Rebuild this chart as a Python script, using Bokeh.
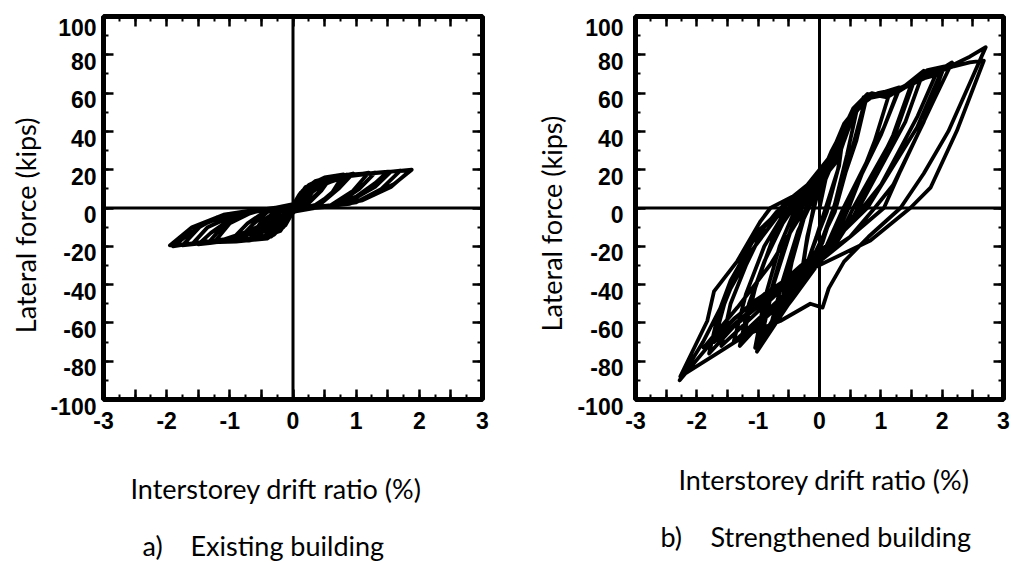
import math
from bokeh.plotting import figure
from bokeh.models import FixedTicker, Span, LinearAxis, Range1d
from bokeh.core.properties import value
from bokeh.layouts import row, column
from bokeh.embed import file_html
from bokeh.resources import INLINE

# ---------------- data: a) existing building ----------------
drift_a = [
    0.00,
    0.10, 0.25, 0.20, 0.05, -0.05, -0.20, -0.25, -0.15, -0.03,
    0.10, 0.30, 0.22, 0.08, -0.05, -0.20, -0.30, -0.20, -0.05,
    0.05, 0.15, 0.35, 0.30, 0.15, 0.00, -0.10, -0.30, -0.25, -0.10, 0.00,
    0.15, 0.35, 0.55, 0.40, 0.20, 0.00, -0.20, -0.40, -0.55, -0.40, -0.20, 0.00,
    0.20, 0.40, 0.60, 0.45, 0.25, 0.00, -0.25, -0.45, -0.65, -0.45, -0.25, 0.00,
    0.10, 0.25, 0.50, 0.80, 0.60, 0.30, 0.00, -0.12, -0.35, -0.70, -0.50, -0.20, 0.00,
    0.25, 0.50, 0.85, 0.65, 0.40, 0.05, -0.30, -0.60, -0.90, -0.65, -0.40, 0.00,
    0.30, 0.60, 0.95, 0.72, 0.45, 0.05, -0.35, -0.70, -1.00, -0.72, -0.45, 0.00,
    0.30, 0.65, 1.20, 0.95, 0.60, 0.00, -0.40, -0.85, -1.25, -1.00, -0.60, 0.00,
    0.35, 0.70, 1.30, 1.05, 0.70, 0.00, -0.45, -0.90, -1.35, -1.10, -0.70, 0.00,
    0.20, 0.50, 1.00, 1.50, 1.30, 1.00, 0.70, 0.00, -0.20, -0.60, -1.10, -1.50, -1.30, -1.00, -0.60, 0.00,
    0.40, 0.80, 1.55, 1.30, 0.85, 0.00, -0.50, -1.00, -1.60, -1.35, -0.85, 0.00,
    0.12, 0.35, 0.70, 1.10, 1.40, 1.70, 1.40, 1.00, 0.50, 0.00, -0.15, -0.41, -0.90, -1.30, -1.75, -1.45, -1.00, -0.50, 0.00,
    0.45, 0.90, 1.40, 1.88, 1.60, 1.17, 0.90, 0.40, 0.00, -0.50, -1.00, -1.50, -1.90, -1.57, -1.20, -0.83, -0.30, 0.00,
    0.50, 1.00, 1.50, 1.85, 1.55, 1.10, 0.60, 0.00, -0.60, -1.10, -1.60, -1.95, -1.60, -1.10, -0.50, 0.00,
]
force_a = [
    0,
    5, 10, 6, 1, -3, -10, -12, -6, -1,
    4, 11, 6, 1.5, -2, -10, -13, -7, -1,
    4, 9, 14, 8, 2, -2, -7, -14, -8, -2, 2,
    6, 13, 15.5, 8, 2, -1, -8, -14, -16, -8, -2, 1,
    8, 14, 16, 9, 2.5, -1.5, -9, -14.5, -16.5, -8, -2.5, 1.5,
    7, 12, 16, 17.5, 7, 0.5, -2, -9, -15, -17, -7, -0.5, 2,
    9, 14.5, 17.5, 9, 2, -1, -9, -15, -17.5, -9, -2, 1,
    10, 15.5, 18, 10, 2.5, -1.5, -10, -16, -17.5, -8, -2, 1.5,
    9, 15.5, 18.5, 9, 1.5, -1, -9, -16, -18, -8, -1.5, 1,
    10, 16, 18.5, 10, 2, -1.5, -10, -16.5, -18.5, -9, -2, 1.5,
    11, 15, 17, 19, 13, 6, 2, -2, -12, -16.5, -17.5, -19, -13, -6, -2, 2,
    11, 16.5, 19, 11, 2.5, -1, -10, -16.5, -19, -10, -2.5, 1.5,
    8, 14, 17, 18, 18.5, 19.5, 10, 3, 0.5, -1, -10, -16, -17.5, -18, -19.5, -9, -3, -1, 1,
    12, 17, 18.5, 20, 12.5, 5.5, 2.2, 0.3, -1, -9, -16, -18, -20, -11.7, -4.8, -2.2, -0.3, 1,
    13, 17.5, 19, 19.5, 11, 4, 1, -1, -11, -16.5, -18.5, -19.5, -10, -3.5, -0.5, 0,
]

# ---------------- data: b) strengthened building ----------------
drift_b = [
    0.00,
    0.10, 0.25, 0.40, 0.32, 0.10, -0.05, -0.30, -0.22, -0.10, 0.00,
    0.20, 0.42, 0.30, 0.12, -0.10, -0.32, -0.20, -0.05,
    0.30, 0.55, 0.78, 0.60, 0.23, 0.00, -0.30, -0.60, -0.45, -0.25, -0.05,
    0.25, 0.50, 0.75, 0.55, 0.25, -0.05, -0.35, -0.65, -0.50, -0.30, -0.10,
    0.05, 0.20, 0.45, 0.60, 0.45, 0.25, 0.05, -0.25, -0.55, -0.80, -0.60, -0.35, -0.10,
    0.15, 0.40, 0.70, 1.00, 1.30, 1.05, 0.39, 0.00, -0.50, -1.02, -0.85, -0.60, -0.35, -0.10,
    0.10, 0.35, 0.60, 0.90, 1.15, 0.90, 0.50, 0.20, -0.20, -0.60, -0.95, -0.75, -0.45, -0.15,
    0.20, 0.45, 0.75, 1.05, 1.30, 1.00, 0.45, 0.05, -0.45, -1.05, -0.90, -0.65, -0.40, -0.15,
    0.15, 0.45, 0.80, 1.20, 1.55, 1.25, 0.55, 0.25, -0.30, -0.80, -1.25, -1.05, -0.75, -0.40, -0.10,
    0.10, 0.35, 0.65, 0.95, 1.25, 1.50, 1.20, 0.70, 0.50, 0.00, -0.50, -0.90, -1.30, -1.15, -0.90, -0.60, -0.30, 0.00,
    0.20, 0.50, 0.80, 1.10, 1.40, 1.70, 1.40, 0.64, 0.20, -0.40, -1.00, -1.40, -1.20, -0.90, -0.60, -0.30,
    0.00, 0.30, 0.55, 0.80, 1.20, 1.50, 1.97, 1.59, 0.78, 0.30, -0.30, -1.00, -1.72, -1.55, -1.30, -1.00, -0.60, -0.30,
    0.30, 0.60, 0.90, 1.30, 1.60, 1.90, 1.60, 1.00, 0.70, 0.30, -0.20, -0.80, -1.40, -1.80, -1.65, -1.45, -1.10, -0.70, -0.30, 0.00,
    0.20, 0.50, 0.85, 1.30, 1.75, 2.00, 1.70, 1.20, 0.90, 0.50, 0.00, -0.60, -1.20, -1.60, -1.45, -1.20, -0.90, -0.55, -0.20,
    0.00, 0.30, 0.55, 0.80, 1.10, 1.40, 1.86, 2.16, 1.86, 1.32, 1.05, 0.50, -0.20, -0.90, -1.40, -1.89, -1.34, -0.80, -0.36, -0.20, 0.10,
    0.30, 0.50, 0.72, 0.85, 1.10, 1.37, 1.76, 2.19, 2.45, 2.71, 2.49, 2.10, 1.70, 1.32, 0.80, 0.40, 0.15, 0.05, -0.15, -0.64,
    -1.18, -1.72, -2.27, -1.83, -1.72, -1.34, -0.96, -0.80, -0.42, 0.02, 0.29,
    0.40, 0.56, 0.72, 0.83, 1.10, 1.37, 1.76, 1.92, 2.19, 2.45, 2.68, 2.24, 1.81, 1.48, 0.83, 0.02, -0.64, -1.07, -1.61, -2.28,
    -1.90, -1.50, -1.10, -0.70, -0.30, 0.00,
]
force_b = [
    0,
    15, 32, 42, 22, 0, -15, -38, -20, 0, 12,
    28, 44, 20, -2, -20, -40, -15, 5,
    35, 52, 59.5, 35, 0, -20, -38, -52, -28, -5, 12,
    30, 48, 57, 33, -2, -22, -40, -55, -30, -8, 10,
    10, 25, 45, 50, 28, 2, -18, -35, -50, -62, -38, -12, 5,
    25, 44, 56, 60, 63, 42, 0, -28, -50, -75, -50, -22, -2, 12,
    18, 38, 53, 59, 61, 35, 2, -20, -36, -50, -68, -40, -10, 8,
    28, 46, 57, 59, 62, 38, 2, -26, -48, -73, -48, -20, -1, 13,
    22, 45, 58, 60, 67, 40, 0, -20, -38, -55, -68, -42, -15, 3, 12,
    20, 40, 55, 60, 62, 65, 38, 5, -8, -25, -42, -58, -72, -50, -28, -8, 6, 15,
    30, 48, 59, 59, 64, 71.7, 45, 0, -22, -40, -58, -70, -45, -20, -4, 8,
    16, 30, 48, 59, 60, 66, 70, 42, 0, -15, -30, -50, -70, -50, -30, -12, 0, 8,
    32, 52, 59, 61, 67, 70, 48, 12, 0, -15, -30, -46, -62, -76, -55, -38, -18, -2, 9, 16,
    26, 47, 59, 62, 70, 71, 45, 12, 0, -15, -28, -42, -60, -72, -50, -30, -10, 3, 12,
    15, 30, 48, 59.5, 58, 63, 70, 76, 56, 19.4, 0, -15, -30, -45, -58, -73, -52, -29.5, -6.8, 0, 15,
    30, 46, 56, 60, 58, 63, 72, 75, 79, 84, 68, 40, 18, 0, -15, -28, -42, -52, -50, -59,
    -66, -77, -88, -59, -43.5, -27.7, -6.8, 0, 6.3, 14, 24.6,
    35, 49, 57.8, 59.5, 57.8, 63, 72, 70.9, 74, 76, 77, 40.3, 10.6, 0, -17, -29.5, -40, -48.7, -64.4, -90,
    -70, -45, -22, -5, 5, 12,
]

assert len(drift_a) == len(force_a)
assert len(drift_b) == len(force_b)

# ---------------- ticks ----------------
x_major = [-3.0, -2.5, -2.0, -1.5, -1.0, -0.5, 0.0, 0.5, 1.0, 1.5, 2.0, 2.5, 3.0]
x_major_labels = ["-3", "", "-2", "", "-1", "", "0", "", "1", "", "2", "", "3"]
x_minor = [-3.0, -2.75, -2.5, -2.25, -2.0, -1.75, -1.5, -1.25, -1.0, -0.75, -0.5, -0.25,
           0.0, 0.25, 0.5, 0.75, 1.0, 1.25, 1.5, 1.75, 2.0, 2.25, 2.5, 2.75, 3.0]
y_major = [-100, -80, -60, -40, -20, 0, 20, 40, 60, 80, 100]
y_major_labels = ["-100", "-80", "-60", "-40", "-20", "0", "20", "40", "60", "80", "100"]
y_minor = [-100, -90, -80, -70, -60, -50, -40, -30, -20, -10, 0,
           10, 20, 30, 40, 50, 60, 70, 80, 90, 100]

x_title = "Interstorey drift ratio (%)"
y_title = "Lateral force (kips)"
captions = [("a)", "Existing building"), ("b)", "Strengthened building")]

TICK_FONT = "Liberation Sans"
TEXT_FONT = "Lato"
TOP_H = 440
BOT_H = 123


def style_axis(ax, show_labels, standoff=0):
    ax.axis_line_color = None
    ax.major_tick_in = 10
    ax.major_tick_out = 0
    ax.minor_tick_in = 5
    ax.minor_tick_out = 0
    ax.major_tick_line_width = 2.5
    ax.minor_tick_line_width = 2
    ax.major_tick_line_color = "black"
    ax.minor_tick_line_color = "black"
    if show_labels:
        ax.major_label_text_font = TICK_FONT
        ax.major_label_text_font_size = "23px"
        ax.major_label_text_font_style = "bold"
        ax.major_label_text_color = "black"
        ax.major_label_standoff = standoff
    else:
        ax.major_label_text_font_size = "0px"
        ax.major_label_standoff = 0


def make_panel(drift, force, width, bl, br, yl_standoff):
    p = figure(width=width, height=TOP_H,
               x_range=Range1d(-3, 3), y_range=Range1d(-100, 100),
               output_backend="svg", toolbar_location=None,
               min_border_left=bl, min_border_right=br,
               min_border_top=16, min_border_bottom=TOP_H - 399,
               background_fill_color="white", border_fill_color="white",
               outline_line_color="black", outline_line_width=5)
    p.xgrid.visible = False
    p.ygrid.visible = False

    xb = p.xaxis[0]
    xb.ticker = FixedTicker(ticks=x_major, minor_ticks=x_minor)
    xb.major_label_overrides = dict(zip(x_major, x_major_labels))
    style_axis(xb, True, 12)

    yb = p.yaxis[0]
    yb.ticker = FixedTicker(ticks=y_major, minor_ticks=y_minor)
    yb.major_label_overrides = {float(k): "\n" + s for k, s in zip(y_major, y_major_labels)}
    style_axis(yb, True, yl_standoff)
    yb.major_label_text_line_height = 0.55

    top = LinearAxis(ticker=FixedTicker(ticks=x_major, minor_ticks=x_minor))
    style_axis(top, False)
    top.major_label_overrides = {k: "" for k in x_major}
    p.add_layout(top, "above")

    right = LinearAxis(ticker=FixedTicker(ticks=y_major, minor_ticks=y_minor))
    style_axis(right, False)
    right.major_label_overrides = {float(k): "" for k in y_major}
    p.add_layout(right, "right")

    p.add_layout(Span(location=0, dimension="width", line_color="black", line_width=3))
    p.add_layout(Span(location=0, dimension="height", line_color="black", line_width=3))

    p.line(drift, force, line_color="black", line_width=3.8, line_join="round")
    return p


def text_fig(w, h):
    f = figure(width=w, height=h, x_range=Range1d(0, w), y_range=Range1d(h, 0),
               output_backend="svg", toolbar_location=None, min_border=0,
               outline_line_color=None, x_axis_location=None, y_axis_location=None,
               background_fill_color="white", border_fill_color="white")
    f.xgrid.visible = False
    f.ygrid.visible = False
    return f


def put(f, x, y, txt, align="left", angle=0.0):
    f.text(x=[x], y=[y], text=[txt], angle=angle, text_align=align,
           text_baseline="middle", text_font=value(TEXT_FONT),
           text_font_size="27px", text_color="black")


# left y-title strip | panel a | y-title strip | panel b
t1 = text_fig(45, TOP_H)
put(t1, 25, 240, y_title, "center", math.pi / 2)
p1 = make_panel(drift_a, force_a, 461, 103 - 45, 24, 7)

t2 = text_fig(68, TOP_H)
put(t2, 551 - 506, 238, y_title, "center", math.pi / 2)
p2 = make_panel(drift_b, force_b, 1012 - 574, 635 - 574, 9, 12)

bottom = text_fig(1012, BOT_H)
put(bottom, 130, 488 - TOP_H, x_title)
put(bottom, 142, 545 - TOP_H, captions[0][0])
put(bottom, 190, 545 - TOP_H, captions[0][1])
put(bottom, 678, 479 - TOP_H, x_title)
put(bottom, 660, 536 - TOP_H, captions[1][0])
put(bottom, 710, 536 - TOP_H, captions[1][1])

layout = column(row(t1, p1, t2, p2), bottom)
open("out.html", "w").write(file_html(layout, INLINE))
